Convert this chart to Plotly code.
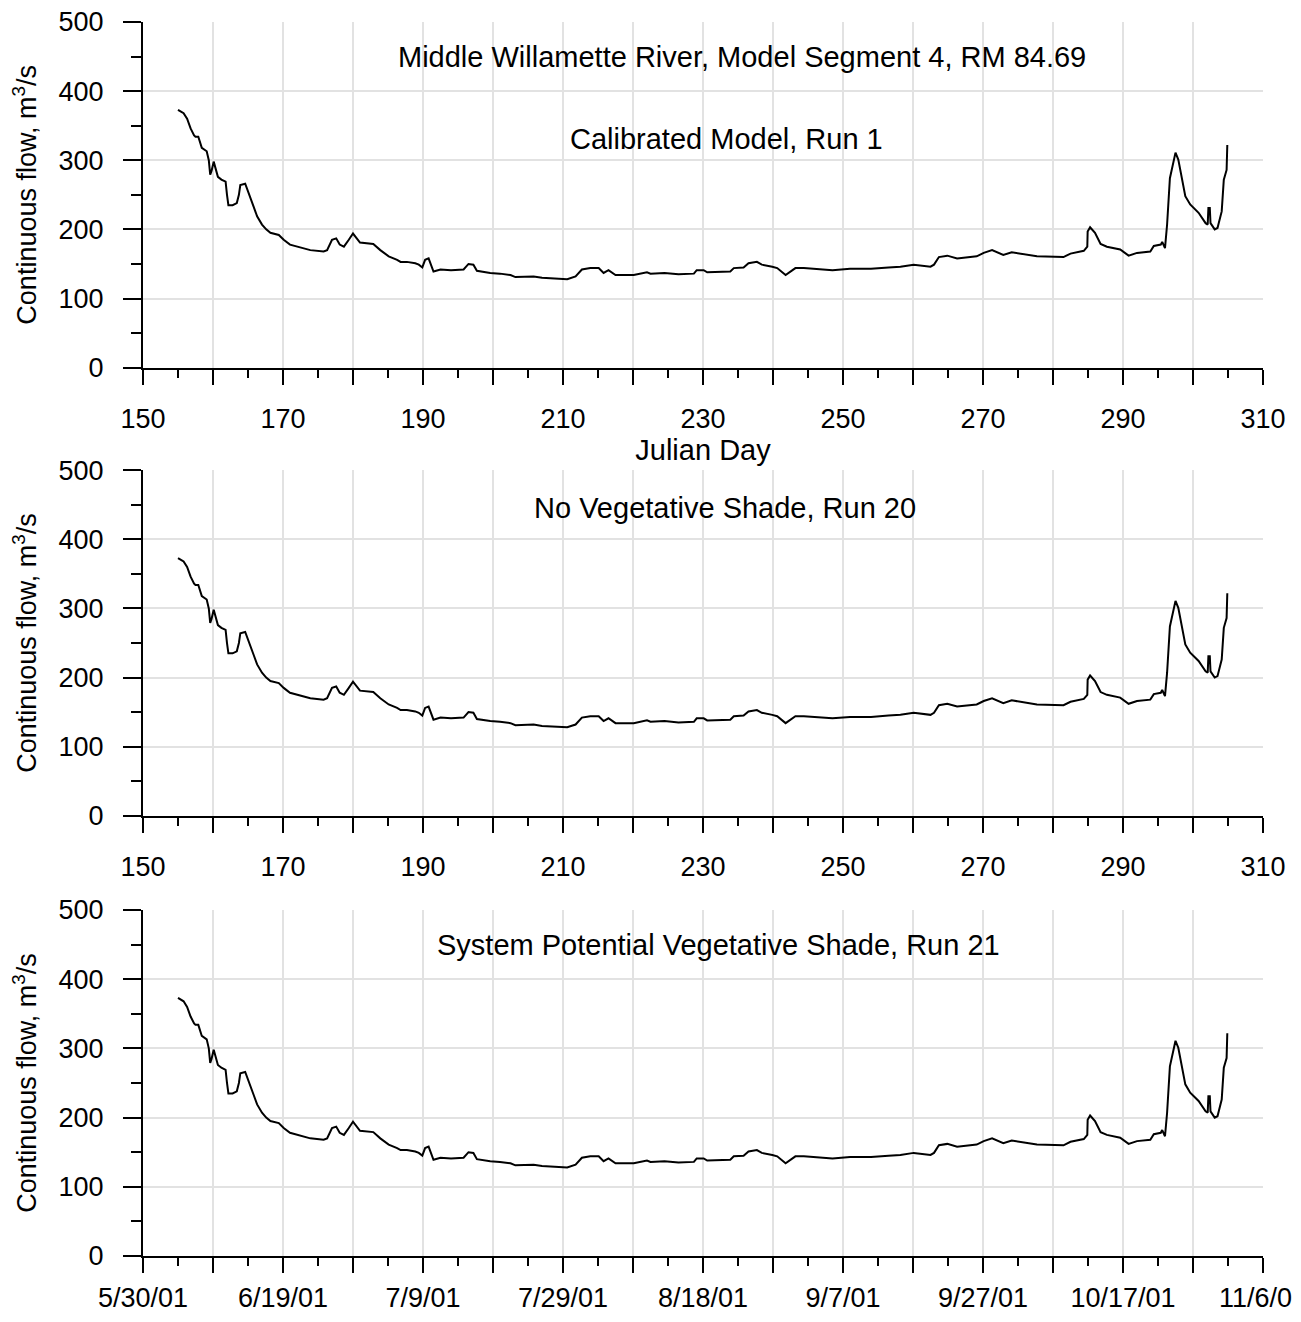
import plotly.graph_objects as go
from plotly.subplots import make_subplots

# Julian day of each traced sample
julian_day = [155.0, 155.5, 155.8, 156.3, 156.8, 157.3, 157.5, 157.9, 158.4, 159.1, 159.4, 159.6, 159.8,
              160.1, 160.4, 160.7, 161.2, 161.8, 162.0, 162.2, 162.8, 163.4, 163.7, 163.9, 164.6, 165.3,
              165.8, 166.3, 167.0, 167.6, 168.2, 169.4, 170.1, 171.0, 172.5, 173.9, 175.8, 176.3, 177.0,
              177.6, 178.1, 178.7, 179.4, 180.0, 181.0, 182.0, 182.9, 183.9, 185.1, 186.3, 186.8, 187.7,
              188.9, 189.4, 189.9, 190.3, 190.8, 191.5, 192.5, 194.0, 195.8, 196.5, 197.2, 197.7, 199.6,
              201.0, 202.5, 203.2, 205.8, 207.0, 208.2, 210.6, 211.8, 212.7, 213.9, 215.1, 215.8, 216.5,
              217.5, 220.1, 222.0, 222.5, 224.5, 226.5, 228.7, 229.1, 230.1, 230.6, 233.9, 234.4, 235.8,
              236.5, 237.7, 238.4, 239.9, 240.6, 241.8, 243.2, 244.4, 246.5, 248.5, 251.0, 254.0, 256.5,
              258.2, 260.1, 262.5, 263.0, 263.7, 264.9, 266.3, 269.1, 270.1, 271.3, 272.9, 274.1, 275.8,
              277.7, 281.5, 282.5, 284.4, 284.9, 284.95, 285.3, 286.0, 286.8, 287.7, 289.6, 290.8, 292.0,
              293.9, 294.4, 295.4, 295.6, 296.0, 296.3, 296.7, 297.0, 297.5, 297.9, 298.4, 298.9, 299.6,
              300.1, 300.8, 301.8, 302.1, 302.2, 302.4, 302.5, 303.1, 303.5, 304.1, 304.4, 304.8, 304.9]

# Continuous flow, m3/s (Calibrated Model, Run 1)
flow_run1 = [373, 370, 368, 360, 346, 336, 334, 334, 318, 313, 300, 279, 285,
             298, 288, 276, 272, 269, 250, 235, 235, 238, 250, 264, 266, 248,
             233, 219, 207, 200, 195, 192, 185, 178, 174, 170, 168, 170, 185,
             187, 178, 175, 185, 194, 181, 180, 179, 170, 161, 156, 153, 153,
             151, 149, 145, 156, 158, 139, 142, 141, 142, 150, 149, 140, 137,
             136, 134, 131, 132, 130, 129, 128, 132, 142, 144, 144, 137, 141,
             134, 134, 138, 136, 137, 135, 136, 141, 141, 138, 139, 144, 145,
             151, 153, 149, 146, 144, 134, 144, 144, 142, 141, 143, 143, 145,
             146, 149, 146, 149, 160, 162, 158, 161, 166, 170, 163, 167, 164,
             161, 160, 165, 169, 175, 197, 203, 195, 179, 175, 171, 162, 166,
             168, 176, 178, 182, 173, 207, 274, 289, 311, 301, 272, 248, 236,
             231, 224, 209, 207, 231, 231, 209, 200, 202, 226, 272, 286, 322]

# No Vegetative Shade, Run 20 (visually identical to Run 1)
flow_run20 = list(flow_run1)
# System Potential Vegetative Shade, Run 21 (visually identical to Run 1)
flow_run21 = list(flow_run1)

x_tick_vals = [150, 160, 170, 180, 190, 200, 210, 220, 230, 240, 250, 260, 270, 280, 290, 300, 310]
julian_labels = ["150", "", "170", "", "190", "", "210", "", "230", "", "250", "", "270", "", "290", "", "310"]
date_labels = ["5/30/01", "", "6/19/01", "", "7/9/01", "", "7/29/01", "", "8/18/01", "", "9/7/01", "",
               "9/27/01", "", "10/17/01", "", "11/6/01"]
x_minor_vals = [155, 165, 175, 185, 195, 205, 215, 225, 235, 245, 255, 265, 275, 285, 295, 305]
y_tick_vals = [0, 100, 200, 300, 400, 500]

panel_titles = [
    ["Middle Willamette River, Model Segment 4, RM 84.69", "Calibrated Model, Run 1"],
    ["No Vegetative Shade, Run 20"],
    ["System Potential Vegetative Shade, Run 21"],
]

FONT = "Liberation Sans, Arial, sans-serif"
FS = 27
FS_ANN = 29
GRID = "#e2e2e2"

fig = make_subplots(rows=3, cols=1)
domains = [[0.7199, 1.0], [0.3568, 0.6367], [0.0, 0.2804]]

for i, flow in enumerate([flow_run1, flow_run20, flow_run21]):
    r = i + 1
    fig.add_trace(go.Scatter(x=julian_day, y=flow, mode="lines",
                             line=dict(color="black", width=2), showlegend=False), row=r, col=1)
    fig.update_xaxes(row=r, col=1, range=[150, 310], tickmode="array", tickvals=x_tick_vals,
                     ticktext=date_labels if r == 3 else julian_labels,
                     ticks="outside", ticklen=15, tickwidth=2, tickcolor="black",
                     showline=True, linecolor="black", linewidth=2,
                     showgrid=True, gridcolor=GRID, gridwidth=2, zeroline=False,
                     ticklabelstandoff=2 if r == 3 else 11, ticklabeloverflow="allow", automargin=False,
                     minor=dict(tickvals=x_minor_vals, ticks="outside", ticklen=8, tickwidth=2,
                                tickcolor="black", showgrid=False),
                     tickfont=dict(family=FONT, size=FS, color="black"),
                     domain=[0, 1])
    fig.update_yaxes(row=r, col=1, range=[0, 500], tickmode="array", tickvals=y_tick_vals,
                     ticks="outside", ticklen=18, tickwidth=2, tickcolor="black",
                     showline=True, linecolor="black", linewidth=2,
                     showgrid=True, gridcolor=GRID, gridwidth=2, zeroline=False,
                     ticklabelstandoff=14, ticklabeloverflow="allow", automargin=False,
                     minor=dict(dtick=50, tick0=0, ticks="outside", ticklen=10, tickwidth=2,
                                tickcolor="black", showgrid=False),
                     tickfont=dict(family=FONT, size=FS, color="black"),
                     title=dict(text="Continuous flow, m<sup>3</sup>/s",
                                font=dict(family=FONT, size=FS, color="black"), standoff=14),
                     domain=domains[i])

fig.update_xaxes(row=1, col=1, title=dict(text="Julian Day", font=dict(family=FONT, size=FS_ANN, color="black"),
                                          standoff=3))

ann_pos = [[(235.5, 450), (233.3, 331)], [(233.2, 445)], [(232.2, 450)]]
for i, texts in enumerate(panel_titles):
    for t, (ax, ay) in zip(texts, ann_pos[i]):
        fig.add_annotation(x=ax, y=ay, xref=f"x{i + 1 if i else ''}", yref=f"y{i + 1 if i else ''}",
                           text=t, showarrow=False,
                           font=dict(family=FONT, size=FS_ANN, color="black"))

# The page body adds an 8 px offset, so the figure is 8 px smaller than the window
fig.update_layout(width=1293, height=1314, plot_bgcolor="white", paper_bgcolor="white",
                  margin=dict(l=135, r=38, t=14, b=66, autoexpand=False),
                  font=dict(family=FONT, size=FS, color="black"))

fig.write_html("out.html")
